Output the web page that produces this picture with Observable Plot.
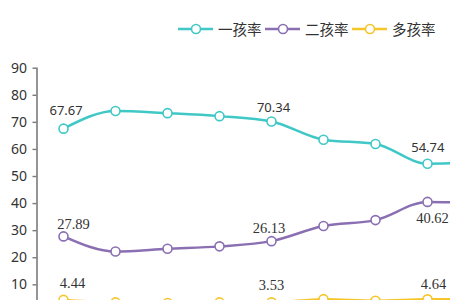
<!DOCTYPE html>
<html><head><meta charset="utf-8">
<script src="https://cdn.jsdelivr.net/npm/d3@7"></script>
<script src="https://cdn.jsdelivr.net/npm/@observablehq/plot@0.6"></script>
<style>
html,body{margin:0;padding:0;background:#fff;overflow:hidden;width:450px;height:300px}
#wrap{position:relative;width:450px;height:300px;overflow:hidden}
#chart{position:absolute;left:0;top:0}
#legend{position:absolute;left:178px;top:18px;display:flex;align-items:center;font-family:"Noto Sans CJK SC";font-size:14.5px;color:#333;white-space:nowrap;z-index:2}
#legend .item{display:flex;align-items:center;margin-right:3.5px}
#legend svg{display:block;margin-right:5px}
</style></head>
<body>
<div id="wrap"><div id="chart"></div><div id="legend"></div></div>
<script>
// categories (x axis is cropped out of the picture)
const categories = ["2011","2012","2013","2014","2015","2016","2017","2018","2019"];
const seriesNames = ["一孩率","二孩率","多孩率"];
const firstChild  = [67.67, 74.2, 73.4, 72.3, 70.34, 63.6, 62.0, 54.74, 55.2];
const secondChild = [27.89, 22.3, 23.3, 24.2, 26.13, 31.7, 33.9, 40.62, 40.1];
const multiChild  = [4.44, 3.5, 3.3, 3.5, 3.53, 4.7, 4.1, 4.64, 4.7];
const labelledIdx = [0, 4, 7];
const yTicks = [10, 20, 30, 40, 50, 60, 70, 80, 90];

const colors = ["#3fc8c6", "#8a6fb2", "#f6c52a"];
const valuesBySeries = [firstChild, secondChild, multiChild];

const rows = [];
seriesNames.forEach((s, k) => categories.forEach((c, i) => rows.push({cat: c, s, v: valuesBySeries[k][i], i, k})));
const labelRows = rows.filter(d => labelledIdx.includes(d.i));

// label offsets (style)
const off = {
  "0-0": [2.6, -18, "sans"], "0-4": [2, -13.4, "sans"], "0-7": [0.3, -15.8, "sans"],
  "1-0": [10, -12.4, "serif"], "1-4": [-2.5, -12.6, "serif"], "1-7": [5, 16.6, "serif"],
  "2-0": [9, -16.4, "serif"], "2-4": [0, -16.8, "serif"], "2-7": [6, -14.8, "serif"]
};

const labelMarks = labelRows.map(d => {
  const o = off[d.k + "-" + d.i];
  return Plot.text([d], {
    x: "cat", y: "v", text: r => r.v.toFixed(2), dx: o[0], dy: o[1],
    fill: "#333", fontSize: o[2] === "sans" ? 13 : 14.5,
    fontFamily: o[2] === "sans" ? "Noto Sans" : "Liberation Serif"
  });
});

const chart = Plot.plot({
  width: 450, height: 300,
  marginLeft: 36.5, marginTop: 67.7, marginBottom: 0, marginRight: 0,
  style: {fontFamily: "Noto Sans", fontSize: "14px", color: "#333", background: "transparent", overflow: "hidden"},
  x: {type: "point", domain: categories, range: [62, 479], padding: 0, axis: null},
  y: {domain: [0, 90], range: [311.4, 67.7], axis: null},
  color: {domain: seriesNames, range: colors},
  marks: [
    Plot.frame({anchor: "left", stroke: "#7a7a7a", strokeWidth: 1.6}),
    Plot.axisY({ticks: yTicks, label: null, tickSize: 4, tickPadding: 6, stroke: "#7a7a7a", strokeWidth: 1.4, fill: "#333", fontSize: 14, fontFamily: "Noto Sans"}),
    Plot.line(rows, {x: "cat", y: "v", z: "s", stroke: "s", curve: "monotone-x", strokeWidth: 2.5}),
    Plot.dot(rows, {x: "cat", y: "v", stroke: "s", fill: "white", r: 4.5, strokeWidth: 1.6}),
    ...labelMarks
  ]
});
document.getElementById("chart").appendChild(chart);

// legend
const lg = document.getElementById("legend");
seriesNames.forEach((s, k) => {
  const it = document.createElement("div");
  it.className = "item";
  it.innerHTML = `<svg width="35" height="12"><line x1="0" x2="35" y1="6" y2="6" stroke="${colors[k]}" stroke-width="2.5"/><circle cx="18" cy="6" r="4.5" fill="white" stroke="${colors[k]}" stroke-width="1.6"/></svg><span>${s}</span>`;
  lg.appendChild(it);
});
</script>
</body></html>
